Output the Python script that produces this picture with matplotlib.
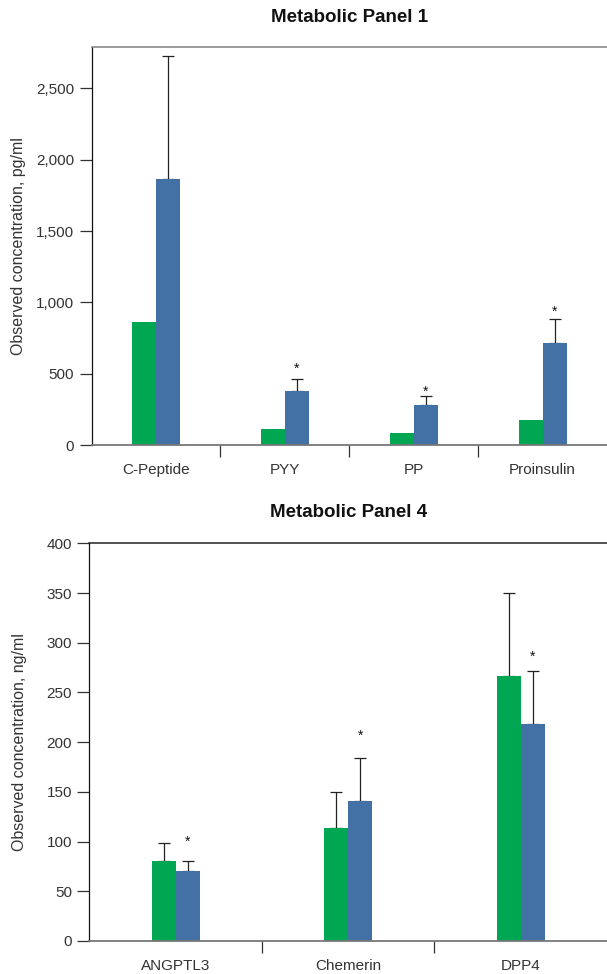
import numpy as np
import matplotlib
matplotlib.use('Agg')
from matplotlib import pyplot as plt

plt.rcParams['font.family'] = ['Liberation Sans', 'DejaVu Sans']

green = '#00a651'
blue = '#4371a6'
txt = '#333333'

# panel 1 (pg/ml)
p1_title = 'Metabolic Panel 1'
p1_labels = ['C-Peptide', 'PYY', 'PP', 'Proinsulin']
p1_green = [862, 112, 84, 175]
p1_blue = [1864, 378, 280, 715]
p1_blue_err = [2729, 460, 346, 881]
p1_stars = [None, 561, 397, 962]
p1_yticks = [0, 500, 1000, 1500, 2000, 2500]

# panel 4 (ng/ml)
p4_title = 'Metabolic Panel 4'
p4_labels = ['ANGPTL3', 'Chemerin', 'DPP4']
p4_green = [80, 114, 267]
p4_green_err = [99, 150, 350]
p4_blue = [70, 141, 218]
p4_blue_err = [80, 184, 272]
p4_stars = [103, 210, 290]
p4_yticks = [0, 50, 100, 150, 200, 250, 300, 350, 400]


def panel(ax, title, labels, g, b, g_err, b_err, stars, yticks, ymax, ylabel, w,
          top_col, tpad):
    n = len(labels)
    x = np.arange(n)
    ax.bar(x - w / 2, g, w, color=green, zorder=2)
    ax.bar(x + w / 2, b, w, color=blue, zorder=2)
    if g_err is not None:
        up = np.array(g_err) - np.array(g)
        ax.errorbar(x - w / 2, g, yerr=[np.zeros(n), up], fmt='none',
                    ecolor='#222222', elinewidth=0.9, capsize=4, capthick=0.9, zorder=1)
    up = np.array(b_err) - np.array(b)
    ax.errorbar(x + w / 2, b, yerr=[np.zeros(n), up], fmt='none',
                ecolor='#222222', elinewidth=0.9, capsize=4, capthick=0.9, zorder=1)
    for i, s in enumerate(stars):
        if s is not None:
            ax.annotate('*', xy=(x[i] + w / 2, s), xytext=(0, -5.5),
                        textcoords='offset points', ha='center', va='baseline',
                        fontsize=10, color='#111111')
    ax.set_xlim(-0.5, n - 0.5)
    ax.set_ylim(0, ymax)
    ax.set_yticks(yticks)
    ax.set_yticklabels(['{:,}'.format(v) for v in yticks])
    ax.set_xticks(np.arange(n - 1) + 0.5)
    ax.set_xticklabels([])
    ax.set_xticks(x, minor=True)
    ax.set_xticklabels(labels, minor=True)
    ax.tick_params(axis='x', which='major', direction='out', length=8.5,
                   width=0.9, color='#333333')
    ax.tick_params(axis='x', which='minor', length=0, pad=13, labelsize=11,
                   labelcolor=txt)
    ax.tick_params(axis='y', direction='out', length=8.5, width=0.9,
                   color='#333333', pad=4, labelsize=11, labelcolor=txt)
    ax.spines['right'].set_visible(False)
    ax.spines['left'].set_color('#111111')
    ax.spines['left'].set_linewidth(0.9)
    ax.spines['bottom'].set_color('#777777')
    ax.spines['bottom'].set_linewidth(1.3)
    ax.spines['top'].set_color(top_col)
    ax.spines['top'].set_linewidth(1.1)
    ax.set_ylabel(ylabel, fontsize=11.5, color=txt)
    ax.set_title(title, fontsize=13.5, fontweight='bold', color='#111111', pad=tpad)


fig = plt.figure(figsize=(6.07, 9.74), dpi=100)
ax1 = fig.add_axes([0.1510, 0.5431, 0.849, 0.4086])
ax4 = fig.add_axes([0.1471, 0.0339, 0.8529, 0.4083])

panel(ax1, p1_title, p1_labels, p1_green, p1_blue, None, p1_blue_err, p1_stars,
      p1_yticks, 2790, 'Observed concentration, pg/ml', 0.186, '#808080', 18)
panel(ax4, p4_title, p4_labels, p4_green, p4_blue, p4_green_err, p4_blue_err,
      p4_stars, p4_yticks, 400, 'Observed concentration, ng/ml', 0.139, '#222222', 19)

ax1.yaxis.set_label_coords(-0.128, 0.5)
ax4.yaxis.set_label_coords(-0.121, 0.5)

fig.savefig('out.png', dpi=100)
